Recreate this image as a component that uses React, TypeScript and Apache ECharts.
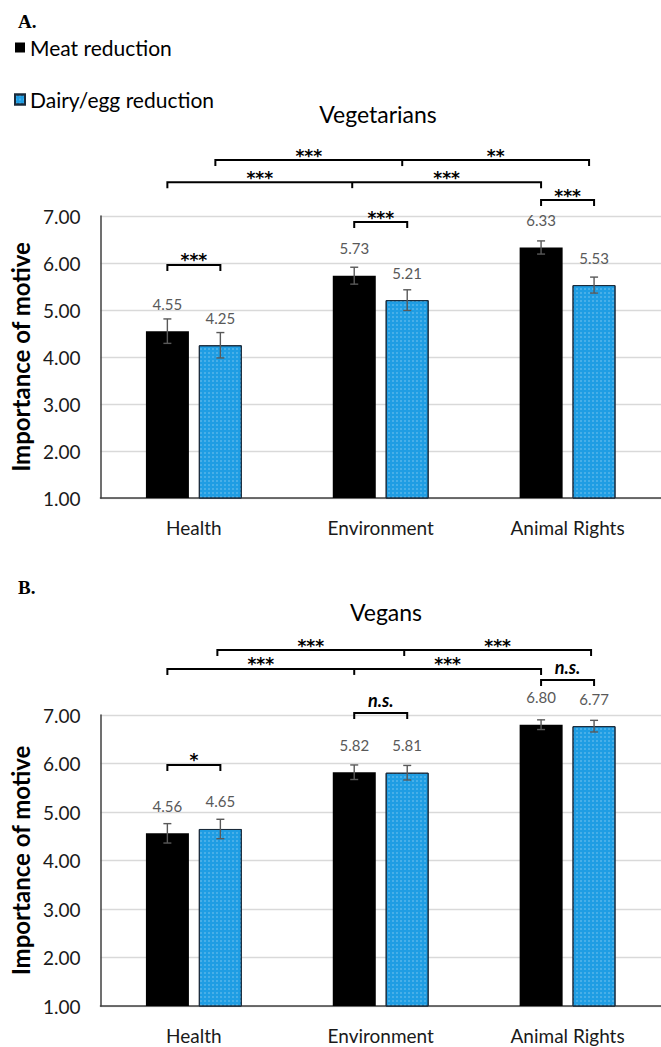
import React, { useEffect, useRef } from "react";
import * as echarts from "echarts";

const categories = ["Health", "Environment", "Animal Rights"];
const seriesNames = ["Meat reduction", "Dairy/egg reduction"];

// Panel A: Vegetarians
const vegMeat = [4.55, 5.73, 6.33];
const vegDairy = [4.25, 5.21, 5.53];
const vegMeatErr = [0.26, 0.18, 0.14];
const vegDairyErr = [0.27, 0.22, 0.17];

// Panel B: Vegans
const veganMeat = [4.56, 5.82, 6.8];
const veganDairy = [4.65, 5.81, 6.77];
const veganMeatErr = [0.2, 0.15, 0.1];
const veganDairyErr = [0.2, 0.15, 0.12];

const yMin = 1;
const yMax = 7;
const yInterval = 1;

// Significance brackets: [category, side(-1 meat / +1 dairy), dx]
const vegBrackets = [
  { from: [0, -1, 0], to: [0, 1, 0], level: 5.96, labels: ["***"] },
  { from: [1, -1, 0], to: [1, 1, 0], level: 6.87, labels: ["***"] },
  { from: [2, -1, 0], to: [2, 1, 0], level: 7.34, labels: ["***"] },
  { from: [0, -1, 0], mid: [1, -1, -2], to: [2, -1, 0], level: 7.72, labels: ["***", "***"] },
  { from: [0, 1, -5], mid: [1, 1, -5], to: [2, 1, -5], level: 8.19, labels: ["***", "**"] },
];
const veganBrackets = [
  { from: [0, -1, 0], to: [0, 1, 0], level: 5.97, labels: ["*"] },
  { from: [1, -1, 0], to: [1, 1, 0], level: 7.04, labels: ["n.s."] },
  { from: [2, -1, 0], to: [2, 1, 0], level: 7.72, labels: ["n.s."] },
  { from: [0, -1, 0], mid: [1, -1, 0], to: [2, -1, 0], level: 7.95, labels: ["***", "***"] },
  { from: [0, 1, -3], mid: [1, 1, -3], to: [2, 1, -3], level: 8.34, labels: ["***", "***"] },
];

const FONT = "Lato, 'Open Sans', sans-serif";
const BAR_W = 43;
const OFF = 26.5;
const BLUE = "#1f9de3";

function errData(meat: number[], dairy: number[], me: number[], de: number[]) {
  const out: number[][] = [];
  meat.forEach((v, i) => {
    out.push([i, v, me[i], -1]);
    out.push([i, dairy[i], de[i], 1]);
  });
  return out;
}

function errorSeries(gridIdx: number, data: number[][]) {
  return {
    type: "custom",
    xAxisIndex: gridIdx,
    yAxisIndex: gridIdx,
    z: 5,
    encode: { x: 0, y: 1 },
    data,
    renderItem: (params: any, api: any) => {
      const cat = api.value(0);
      const v = api.value(1);
      const e = api.value(2);
      const s = api.value(3);
      const c = api.coord([cat, v]);
      const x = c[0] + s * OFF;
      const yt = api.coord([cat, v + e])[1];
      const yb = api.coord([cat, v - e])[1];
      const st = { stroke: "#595959", lineWidth: 1.4 };
      return {
        type: "group",
        children: [
          { type: "line", shape: { x1: x, y1: yt, x2: x, y2: yb }, style: st },
          { type: "line", shape: { x1: x - 4, y1: yt, x2: x + 4, y2: yt }, style: st },
          { type: "line", shape: { x1: x - 4, y1: yb, x2: x + 4, y2: yb }, style: st },
        ],
      };
    },
  };
}

function bracketSeries(gridIdx: number, brackets: any[]) {
  return {
    type: "custom",
    xAxisIndex: gridIdx,
    yAxisIndex: gridIdx,
    z: 6,
    clip: false,
    encode: { x: 0, y: 1 },
    data: brackets.map((b, i) => [b.from[0], b.level, i]),
    renderItem: (params: any, api: any) => {
      const b = brackets[params.dataIndex];
      const px = (pt: number[]) => api.coord([pt[0], b.level])[0] + pt[1] * OFF + (pt[2] || 0);
      const y = api.coord([0, b.level])[1];
      const x1 = px(b.from);
      const x2 = px(b.to);
      const TICK = 6;
      const ls = { stroke: "#000", lineWidth: 2, fill: null as any };
      const children: any[] = [
        {
          type: "polyline",
          shape: { points: [[x1, y + TICK], [x1, y], [x2, y], [x2, y + TICK]] },
          style: ls,
        },
      ];
      const addLabel = (text: string, x: number) => {
        const ns = text === "n.s.";
        children.push({
          type: "text",
          x,
          y: ns ? y - 4 : y + 4,
          style: ns
            ? {
                text,
                fill: "#000",
                fontFamily: FONT,
                fontSize: 18,
                fontWeight: "bold",
                fontStyle: "italic",
                align: "center",
                verticalAlign: "bottom",
              }
            : {
                text,
                fill: "#000",
                fontFamily: "'DejaVu Sans', sans-serif",
                fontSize: 17,
                fontWeight: "bold",
                align: "center",
                verticalAlign: "bottom",
              },
        });
      };
      if (b.mid) {
        const xm = px(b.mid);
        children.push({ type: "line", shape: { x1: xm, y1: y, x2: xm, y2: y + TICK }, style: ls });
        addLabel(b.labels[0], (x1 + xm) / 2);
        addLabel(b.labels[1], (xm + x2) / 2);
      } else {
        addLabel(b.labels[0], (x1 + x2) / 2);
      }
      return { type: "group", children };
    },
  };
}

function barSeries(gridIdx: number, name: string, data: number[], isDairy: boolean) {
  return {
    type: "bar",
    name,
    xAxisIndex: gridIdx,
    yAxisIndex: gridIdx,
    data,
    barWidth: BAR_W,
    barGap: "23%",
    itemStyle: isDairy
      ? {
          color: BLUE,
          borderColor: "#1a2a3a",
          borderWidth: 1,
          decal: {
            symbol: "rect",
            symbolSize: 0.7,
            color: "rgba(255,255,255,0.35)",
            dashArrayX: [1.5, 1.5],
            dashArrayY: [1.5, 1.5],
          },
        }
      : { color: "#000" },
    label: {
      show: true,
      position: "top",
      distance: 20,
      formatter: (p: any) => Number(p.value).toFixed(2),
      color: "#595959",
      fontSize: 15,
      fontFamily: FONT,
    },
  };
}

function xAxisCfg(gridIdx: number) {
  return {
    type: "category",
    gridIndex: gridIdx,
    data: categories,
    axisLine: { show: true, lineStyle: { color: "#404040", width: 1.5 } },
    axisTick: { show: false },
    axisLabel: { color: "#1a1a1a", fontSize: 19, fontFamily: FONT, margin: 20 },
  };
}

function yAxisCfg(gridIdx: number) {
  return {
    type: "value",
    gridIndex: gridIdx,
    min: yMin,
    max: yMax,
    interval: yInterval,
    name: "Importance of motive",
    nameLocation: "middle",
    nameRotate: 90,
    nameGap: 66,
    nameTextStyle: { fontSize: 24, fontWeight: "bold", fontFamily: FONT, color: "#000" },
    axisLine: { show: true, lineStyle: { color: "#404040", width: 1.5 } },
    axisTick: { show: false },
    axisLabel: {
      color: "#1a1a1a",
      fontSize: 19,
      fontFamily: FONT,
      margin: 20,
      formatter: (v: number) => v.toFixed(2),
    },
    splitLine: { show: true, lineStyle: { color: "#d9d9d9", width: 1.3 } },
  };
}

export default function App() {
  const ref = useRef<HTMLDivElement>(null);
  useEffect(() => {
    if (!ref.current) return;
    const chart = echarts.init(ref.current, null, { renderer: "svg" });
    chart.setOption({
      animation: false,
      backgroundColor: "#fff",
      legend: {
        orient: "vertical",
        left: 14,
        top: 37,
        padding: 0,
        itemWidth: 10,
        itemHeight: 10,
        itemGap: 31,
        icon: "rect",
        data: seriesNames,
        textStyle: { fontSize: 21, fontFamily: FONT, color: "#000", lineHeight: 20 },
      },
      grid: [
        { left: 100, right: 0, top: 216, height: 282 },
        { left: 100, right: -6, top: 715, height: 291 },
      ],
      xAxis: [xAxisCfg(0), xAxisCfg(1)],
      yAxis: [yAxisCfg(0), yAxisCfg(1)],
      graphic: [
        {
          type: "text",
          left: 18,
          top: 12,
          style: { text: "A.", fontFamily: "'Liberation Serif', serif", fontWeight: "bold", fontSize: 19, fill: "#000" },
        },
        {
          type: "text",
          left: 18,
          top: 578,
          style: { text: "B.", fontFamily: "'Liberation Serif', serif", fontWeight: "bold", fontSize: 19, fill: "#000" },
        },
        {
          type: "text",
          x: 378,
          y: 114,
          style: { text: "Vegetarians", fontFamily: FONT, fontSize: 23, fill: "#000", align: "center", verticalAlign: "middle" },
        },
        {
          type: "text",
          x: 386,
          y: 612,
          style: { text: "Vegans", fontFamily: FONT, fontSize: 23, fill: "#000", align: "center", verticalAlign: "middle" },
        },
      ],
      series: [
        barSeries(0, seriesNames[0], vegMeat, false),
        barSeries(0, seriesNames[1], vegDairy, true),
        barSeries(1, seriesNames[0], veganMeat, false),
        barSeries(1, seriesNames[1], veganDairy, true),
        errorSeries(0, errData(vegMeat, vegDairy, vegMeatErr, vegDairyErr)),
        errorSeries(1, errData(veganMeat, veganDairy, veganMeatErr, veganDairyErr)),
        bracketSeries(0, vegBrackets),
        bracketSeries(1, veganBrackets),
      ],
    });
    return () => chart.dispose();
  }, []);
  return (
    <div
      ref={ref}
      style={{ position: "absolute", left: 0, top: 0, width: 661, height: 1047 }}
    />
  );
}
